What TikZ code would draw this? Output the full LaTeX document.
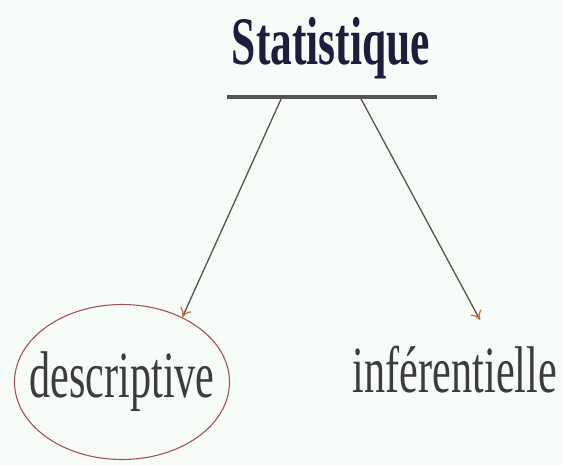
\documentclass[tikz,border=0pt]{standalone}
\usepackage{fontspec}
\setmainfont{Liberation Serif}
\newfontfamily\narrowserif[FakeStretch=0.64]{Liberation Serif}
\usepackage{tikz}
\usetikzlibrary{shapes,arrows.meta,positioning}

\definecolor{paper}{RGB}{248,252,249}
\definecolor{titleblue}{RGB}{30,30,60}
\definecolor{textgrey}{RGB}{60,60,60}
\definecolor{rulegrey}{RGB}{85,85,85}
\definecolor{linkgrey}{RGB}{90,80,80}
\definecolor{tiporange}{RGB}{200,120,60}
\definecolor{ringred}{RGB}{160,85,85}

\tikzset{
  word/.style={font=\narrowserif\fontsize{66}{70}\selectfont, text=textgrey},
  link/.style={draw=linkgrey, line width=1.3pt,
    -{To[length=9pt,width=12pt,color=tiporange]}}
}

\begin{document}
\begin{tikzpicture}[x=1pt,y=-1pt]
    \fill[paper] (0,0) rectangle (563,465);
    \useasboundingbox (0,0) rectangle (563,465);
    \node[word, anchor=base, text=titleblue, font=\narrowserif\bfseries\fontsize{68}{72}\selectfont] (stat) at (331,65) {Statistique};
    \coordinate (barL) at (227,97);
    \coordinate (barR) at (437,97);
    \draw[rulegrey, line width=3.5pt] (barL) -- (barR);
    \coordinate (legL) at (282,97);
    \coordinate (legR) at (360,97);
    \node[word, ellipse, draw=ringred, line width=1.1pt, inner xsep=-40pt, inner ysep=0pt,
      minimum width=215pt, minimum height=155pt] (desc) at (122,382) {descriptive};
    \node[word, anchor=base] (infer) at (455,392) {inférentielle};
    \draw[link] (legL) -- (desc.47);
    \draw[link] (legR) -- ([xshift=25pt,yshift=22pt]infer.north);
  \end{tikzpicture}
\end{document}
